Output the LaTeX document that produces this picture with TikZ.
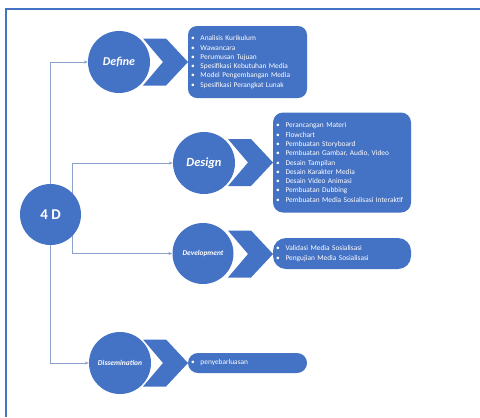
\documentclass[tikz,border=0pt]{standalone}
\usepackage{fontspec}
\setmainfont{Carlito}
\usetikzlibrary{arrows.meta,calc}
\pgfdeclarelayer{background}
\pgfsetlayers{background,main}
\definecolor{obl}{HTML}{4472C4}
\definecolor{conn}{RGB}{140,162,205}
\newcommand\bul{\makebox[9.5bp][l]{\textbullet}}
\tikzset{
  frameline/.style={draw=obl,line width=2bp},
  phase/.style={circle,fill=obl,draw=none,text=white,inner sep=0pt},
  chev/.style={fill=obl,draw=none},
  box/.style={fill=obl,draw=none,text=white,align=left,inner xsep=3bp,inner ysep=0pt,
     font=\fontsize{7.4}{9.3}\selectfont},
  conline/.style={draw=conn,line width=0.8bp,-{Stealth[length=4bp,width=3.2bp]}},
}
\begin{document}
\begin{tikzpicture}[x=1bp,y=-1bp]
\useasboundingbox (0,0) rectangle (480,417);
\begin{pgfonlayer}{background}
\fill[white] (0,0) rectangle (480,417);
\end{pgfonlayer}
% frame
\draw[frameline] (5,8.5) -- (480,8.5);
\draw[frameline] (6,8) -- (6,417);

% chevrons
\foreach \L/\C in {143/62, 228/162.5, 228/254, 143/363}{
  \fill[chev] (\L,\C-23.5) -- (\L+23,\C-23.5) -- (\L+45,\C) -- (\L+23,\C+23.5) -- (\L,\C+23.5) -- (\L+20,\C) -- cycle;
}

% circles
\node[phase,minimum size=61bp,font=\bfseries\fontsize{15}{18}\selectfont] (four) at (50.5,214.5) {4 D};
\node[phase,minimum size=62bp,font=\bfseries\itshape\fontsize{12}{14}\selectfont] (define) at (119,62) {Define};
\node[phase,minimum size=62bp,font=\bfseries\itshape\fontsize{12.5}{15}\selectfont] (design) at (204,163) {Design};
\node[phase,minimum size=61bp,font=\bfseries\itshape\fontsize{7.4}{9}\selectfont] (devel) at (203,253.5) {Development};
\node[phase,minimum size=62bp,font=\bfseries\itshape\fontsize{7.5}{9}\selectfont] (dissem) at (120,363) {Dissemination};

% connectors (behind circles)
\coordinate (tap) at ($(four.center)+(21.5,0)$);
\begin{pgfonlayer}{background}
\draw[conline] (four.north) |- (define.west);
\draw[conline] (four.south) |- (dissem.west);
\draw[conline] (tap) |- (design.west);
\draw[conline] (tap) |- (devel.west);
\end{pgfonlayer}

% boxes
\node[box,rounded corners=9bp,minimum width=119bp,minimum height=72bp,text width=113bp] (defbox) at (247.5,62)
 {\bul Analisis Kurikulum\\ \bul Wawancara\\ \bul Perumusan Tujuan\\ \bul Spesifikasi Kebutuhan Media\\ \bul Model Pengembangan Media\\ \bul Spesifikasi Perangkat Lunak};
\node[box,rounded corners=10bp,minimum width=138bp,minimum height=100bp,text width=132bp] (desbox) at (342,162.5)
 {\bul Perancangan Materi\\ \bul Flowchart\\ \bul Pembuatan Storyboard\\ \bul Pembuatan Gambar, Audio, Video\\ \bul Desain Tampilan\\ \bul Desain Karakter Media\\ \bul Desain Video Animasi\\ \bul Pembuatan Dubbing\\ \bul Pembuatan Media Sosialisasi Interaktif};
\node[box,rounded corners=13bp,minimum width=138bp,minimum height=31bp,text width=132bp] (devbox) at (342,253.5)
 {\bul Validasi Media Sosialisasi\\ \bul Pengujian Media Sosialisasi};
\node[box,rounded corners=10bp,minimum width=119bp,minimum height=20bp,text width=113bp] (disbox) at (247.5,363)
 {\bul penyebarluasan};
\end{tikzpicture}
\end{document}
